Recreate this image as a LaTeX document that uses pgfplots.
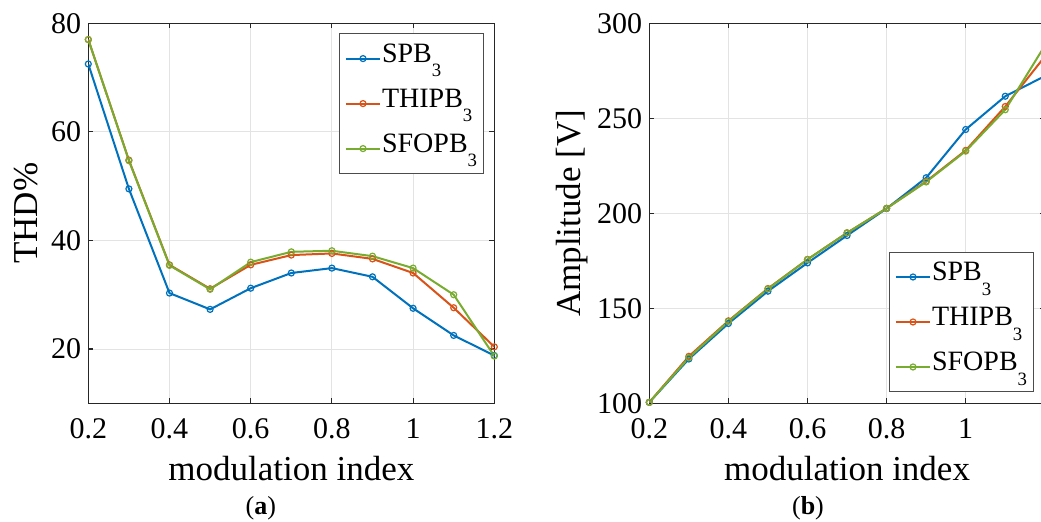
\documentclass[border=0pt]{standalone}
\usepackage{fontspec}
\setmainfont{Liberation Serif}
\usepackage{pgfplots}
\pgfplotsset{compat=1.18}
\definecolor{mblue}{rgb}{0,0.447,0.741}
\definecolor{morange}{rgb}{0.85,0.325,0.098}
\definecolor{mgreen}{rgb}{0.466,0.674,0.188}
\newcommand{\sub}[1]{\raisebox{-7.2pt}{\fontsize{9.4}{9.4}\selectfont #1}}
\pgfplotsset{mystyle/.style={
  scale only axis,
  /pgf/number format/assume math mode=true,
  ticklabel style={font=\fontsize{15}{15}\selectfont},
  xticklabel style={yshift=-4.2pt},
  label style={font=\fontsize{17.5}{17.5}\selectfont},
  grid=major,
  major grid style={gray!22, line width=0.5pt},
  axis line style={line width=0.6pt, black!85},
  tick style={black!85, line width=0.6pt},
  tick align=inside, major tick length=2.5pt,
  xlabel style={at={(axis description cs:0.5,0)}, anchor=base, yshift=-38.85pt},
  legend cell align=left,
  legend style={font=\fontsize{14}{14}\selectfont, draw=black!70, line width=0.6pt,
    inner sep=2.8pt, row sep=3.4pt,
    nodes={inner sep=0.5pt, text height=10.9pt, text depth=7.2pt}},
  every axis plot/.append style={line width=1pt, mark=o, mark size=1.5pt,
    mark options={line width=0.6pt, solid}},
}}
\begin{document}
\begin{tikzpicture}
\begin{axis}[mystyle,
  at={(44.15pt,59.35pt)}, anchor=south west,
  width=203pt, height=190pt,
  xmin=0.2, xmax=1.2, ymin=10, ymax=80,
  xtick={0.2,0.4,0.6,0.8,1,1.2},
  xticklabels={0.2,0.4,0.6,0.8,1,1.2},
  ytick={20,40,60,80},
  xlabel={modulation index},
  ylabel={THD\%},
  ylabel style={at={(axis description cs:-0.152,0.5)}, anchor=center},
  legend style={at={(1,1)}, anchor=north east, xshift=-5pt, yshift=-5pt},
]
\addplot[color=mblue] coordinates {
(0.2,72.5) (0.3,49.5) (0.4,30.3) (0.5,27.3) (0.6,31.2) (0.7,34.0)
(0.8,34.9) (0.9,33.3) (1.0,27.5) (1.1,22.5) (1.2,18.8)};
\addlegendentry{SPB\sub{3}}
\addplot[color=morange] coordinates {
(0.2,77.0) (0.3,54.8) (0.4,35.5) (0.5,31.1) (0.6,35.5) (0.7,37.3)
(0.8,37.6) (0.9,36.6) (1.0,34.0) (1.1,27.6) (1.2,20.4)};
\addlegendentry{THIPB\sub{3}}
\addplot[color=mgreen] coordinates {
(0.2,77.0) (0.3,54.7) (0.4,35.4) (0.5,31.0) (0.6,36.0) (0.7,37.9)
(0.8,38.1) (0.9,37.1) (1.0,34.9) (1.1,30.0) (1.2,18.7)};
\addlegendentry{SFOPB\sub{3}}
\end{axis}
\begin{axis}[mystyle,
  at={(324.65pt,59.35pt)}, anchor=south west,
  width=197.75pt, height=190pt,
  xmin=0.2, xmax=1.2, ymin=100, ymax=300,
  xtick={0.2,0.4,0.6,0.8,1},
  xticklabels={0.2,0.4,0.6,0.8,1},
  ytick={100,150,200,250,300},
  xlabel={modulation index},
  ylabel={Amplitude [V]},
  ylabel style={at={(axis description cs:-0.196,0.5)}, anchor=center},
  legend style={at={(1,0)}, anchor=south east, xshift=-5.25pt, yshift=5.5pt},
]
\addplot[color=mblue] coordinates {
(0.2,100.5) (0.3,123.3) (0.4,142.0) (0.5,159.0) (0.6,173.9) (0.7,188.3)
(0.8,202.5) (0.9,218.7) (1.0,244.1) (1.1,261.6) (1.2,272.2)};
\addlegendentry{SPB\sub{3}}
\addplot[color=morange] coordinates {
(0.2,100.5) (0.3,124.7) (0.4,143.4) (0.5,160.4) (0.6,175.7) (0.7,189.7)
(0.8,202.6) (0.9,216.8) (1.0,233.1) (1.1,256.2) (1.2,282.5)};
\addlegendentry{THIPB\sub{3}}
\addplot[color=mgreen] coordinates {
(0.2,100.5) (0.3,124.0) (0.4,143.1) (0.5,160.2) (0.6,175.7) (0.7,189.7)
(0.8,202.6) (0.9,216.5) (1.0,232.7) (1.1,254.5) (1.2,288.2)};
\addlegendentry{SFOPB\sub{3}}
\end{axis}
\node[anchor=base, font=\fontsize{13}{13}\selectfont] at (130.4pt,3.7pt) {(\textbf{a})};
\node[anchor=base, font=\fontsize{13}{13}\selectfont] at (404pt,3.7pt) {(\textbf{b})};
\pgfresetboundingbox
\path[use as bounding box] (0,0) rectangle (520.5pt,261pt);
\end{tikzpicture}
\end{document}
